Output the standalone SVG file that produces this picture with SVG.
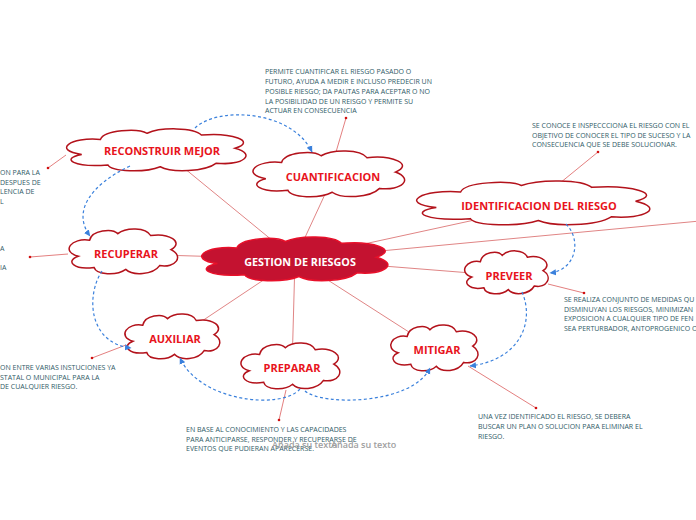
<svg xmlns="http://www.w3.org/2000/svg" xmlns:xlink="http://www.w3.org/1999/xlink" width="696" height="520" viewBox="0 0 696 520">
<style>
#cl{vector-effect:non-scaling-stroke}
.cloud{fill:#ffffff;stroke:#b3121b;stroke-width:1.5}
.cloudmain{fill:#c41230;stroke:#e8102a;stroke-width:1.5}
.lbl{font-family:"Open Sans","Liberation Sans",sans-serif;font-weight:bold;font-size:11px;fill:#e8141c;text-anchor:middle}
.lblmain{font-family:"Open Sans","Liberation Sans",sans-serif;font-weight:bold;font-size:10.8px;fill:#ffffff;text-anchor:middle}
.note{font-family:"Open Sans","Liberation Sans",sans-serif;font-size:7px;fill:#2e5a66}
.hint{font-family:"Open Sans","Liberation Sans",sans-serif;font-size:9px;font-weight:600;fill:#a0a0a0}
.conn{stroke:#e08585;stroke-width:1;fill:none}
.nl{stroke:#e07070;stroke-width:0.9;fill:none;marker-end:url(#dot)}
.rel{stroke:#3a80dc;stroke-width:1.2;stroke-dasharray:3,2.5;fill:none;marker-end:url(#arr)}
</style>
<defs>
<path id="cl" vector-effect="non-scaling-stroke" d="M 0.1,0.6 C -0.06,0.5 0.04,0.2 0.2,0.26 C 0.22,0.04 0.4,0.0 0.45,0.12 C 0.52,-0.02 0.7,-0.02 0.74,0.16 C 0.9,0.1 1.04,0.3 0.92,0.46 C 1.04,0.6 0.96,0.86 0.82,0.8 C 0.76,1.0 0.58,1.02 0.52,0.88 C 0.44,1.02 0.26,1.0 0.24,0.84 C 0.06,0.9 -0.02,0.7 0.1,0.6 Z"/>
<marker id="dot" markerWidth="4" markerHeight="4" refX="2" refY="2" markerUnits="userSpaceOnUse"><circle cx="2" cy="2" r="1.3" fill="#d01010"/></marker>
<marker id="arr" markerWidth="7" markerHeight="7" refX="6" refY="3.5" orient="auto" markerUnits="userSpaceOnUse"><path d="M0,0.5 L6.5,3.5 L0,6.5 Z" fill="#3a80dc"/></marker>
</defs>
<g id="connectors">
<line class="conn" x1="295" y1="259" x2="162" y2="150"/>
<line class="conn" x1="295" y1="259" x2="333" y2="177"/>
<line class="conn" x1="295" y1="259" x2="539" y2="206"/>
<line class="conn" x1="295" y1="259" x2="126" y2="254"/>
<line class="conn" x1="295" y1="259" x2="509" y2="276"/>
<line class="conn" x1="295" y1="259" x2="175" y2="339"/>
<line class="conn" x1="295" y1="259" x2="292" y2="368"/>
<line class="conn" x1="295" y1="259" x2="437" y2="350"/>
<line class="conn" x1="295" y1="259" x2="700" y2="221"/>
<line class="nl" x1="336" y1="152" x2="346" y2="118"/>
<line class="nl" x1="560" y1="183" x2="598" y2="152"/>
<line class="nl" x1="66" y1="155" x2="48" y2="168"/>
<line class="nl" x1="68" y1="254" x2="30" y2="257"/>
<line class="nl" x1="126" y1="345" x2="92" y2="358"/>
<line class="nl" x1="286" y1="390" x2="279" y2="420"/>
<line class="nl" x1="468" y1="366" x2="536" y2="408"/>
<line class="nl" x1="548" y1="284" x2="584" y2="293"/>
</g>
<g id="n-gestion"><use href="#cl" class="cloudmain" transform="translate(198,236) scale(194,46)"/><text class="lblmain" x="300" y="266">GESTION DE RIESGOS</text></g>
<g id="n-reconstruir"><use href="#cl" class="cloud" transform="translate(63,128) scale(187,44)"/><text class="lbl" x="162" y="155">RECONSTRUIR MEJOR</text></g>
<g id="n-cuantificacion"><use href="#cl" class="cloud" transform="translate(250,150) scale(158,48)"/><text class="lbl" x="333" y="181">CUANTIFICACION</text></g>
<g id="n-identificacion"><use href="#cl" class="cloud" transform="translate(412,180) scale(243,46)"/><text class="lbl" x="539" y="210">IDENTIFICACION DEL RIESGO</text></g>
<g id="n-recuperar"><use href="#cl" class="cloud" transform="translate(67,228) scale(113,47)"/><text class="lbl" x="126" y="258">RECUPERAR</text></g>
<g id="n-preveer"><use href="#cl" class="cloud" transform="translate(463,250) scale(87,45)"/><text class="lbl" x="509" y="280">PREVEER</text></g>
<g id="n-auxiliar"><use href="#cl" class="cloud" transform="translate(123,313) scale(99,47)"/><text class="lbl" x="175" y="343">AUXILIAR</text></g>
<g id="n-preparar"><use href="#cl" class="cloud" transform="translate(239,342) scale(103,48)"/><text class="lbl" x="292" y="372">PREPARAR</text></g>
<g id="n-mitigar"><use href="#cl" class="cloud" transform="translate(389,324) scale(91,48)"/><text class="lbl" x="437" y="354">MITIGAR</text></g>
<g id="relations">
<path class="rel" d="M 195,128 C 218,106 292,110 312,152"/>
<path class="rel" d="M 130,166 C 90,185 72,212 90,236"/>
<path class="rel" d="M 102,271 C 86,295 88,343 131,348"/>
<path class="rel" d="M 300,389 C 282,410 200,402 180,358"/>
<path class="rel" d="M 305,391 C 322,406 412,405 430,368"/>
<path class="rel" d="M 522,292 C 535,322 520,360 470,366"/>
<path class="rel" d="M 566,224 C 582,240 576,270 550,273"/>
</g>
<g id="notes">
<text class="note" x="265" y="74">PERMITE CUANTIFICAR EL RIESGO PASADO O</text>
<text class="note" x="265" y="84">FUTURO, AYUDA A MEDIR E INCLUSO PREDECIR UN</text>
<text class="note" x="265" y="94">POSIBLE RIESGO; DA PAUTAS PARA ACEPTAR O NO</text>
<text class="note" x="265" y="103.5">LA POSIBILIDAD DE UN REISGO Y PERMITE SU</text>
<text class="note" x="265" y="113">ACTUAR EN CONSECUENCIA</text>
<text class="note" x="532" y="128">SE CONOCE E INSPECCCIONA EL RIESGO CON EL</text>
<text class="note" x="532" y="137.5">OBJETIVO DE CONOCER EL TIPO DE SUCESO Y LA</text>
<text class="note" x="532" y="147">CONSECUENCIA QUE SE DEBE SOLUCIONAR.</text>
<text class="note" x="0" y="175">ON PARA  LA</text>
<text class="note" x="0" y="184.5">  DESPUES DE</text>
<text class="note" x="0" y="194">LENCIA DE</text>
<text class="note" x="0" y="203.5">L</text>
<text class="note" x="0" y="251">A</text>
<text class="note" x="0" y="270">IA</text>
<text class="note" x="0" y="370">ON ENTRE VARIAS INSTUCIONES YA</text>
<text class="note" x="0" y="379.5">STATAL O MUNICIPAL PARA LA</text>
<text class="note" x="0" y="389">DE CUALQUIER RIESGO.</text>
<text class="note" x="186" y="432">EN BASE AL CONOCIMIENTO  Y LAS CAPACIDADES</text>
<text class="note" x="186" y="441.5">PARA ANTICIPARSE, RESPONDER Y RECUPERARSE DE</text>
<text class="note" x="186" y="451">EVENTOS QUE PUDIERAN APARECERSE.</text>
<text class="note" x="478" y="419">UNA VEZ IDENTIFICADO EL RIESGO, SE DEBERA</text>
<text class="note" x="478" y="429">BUSCAR UN PLAN O SOLUCION PARA ELIMINAR EL</text>
<text class="note" x="478" y="439">RIESGO.</text>
<text class="note" x="564" y="302">SE REALIZA CONJUNTO DE MEDIDAS QU</text>
<text class="note" x="564" y="311.5">DISMINUYAN LOS RIESGOS, MINIMIZAN</text>
<text class="note" x="564" y="321">EXPOSICION A CUALQUIER TIPO DE FEN</text>
<text class="note" x="564" y="330.5">SEA PERTURBADOR, ANTOPROGENICO O</text>
<text class="hint" x="272" y="448">Añada su texto</text>
<text class="hint" x="331" y="448">Añada su texto</text>
</g>
</svg>
